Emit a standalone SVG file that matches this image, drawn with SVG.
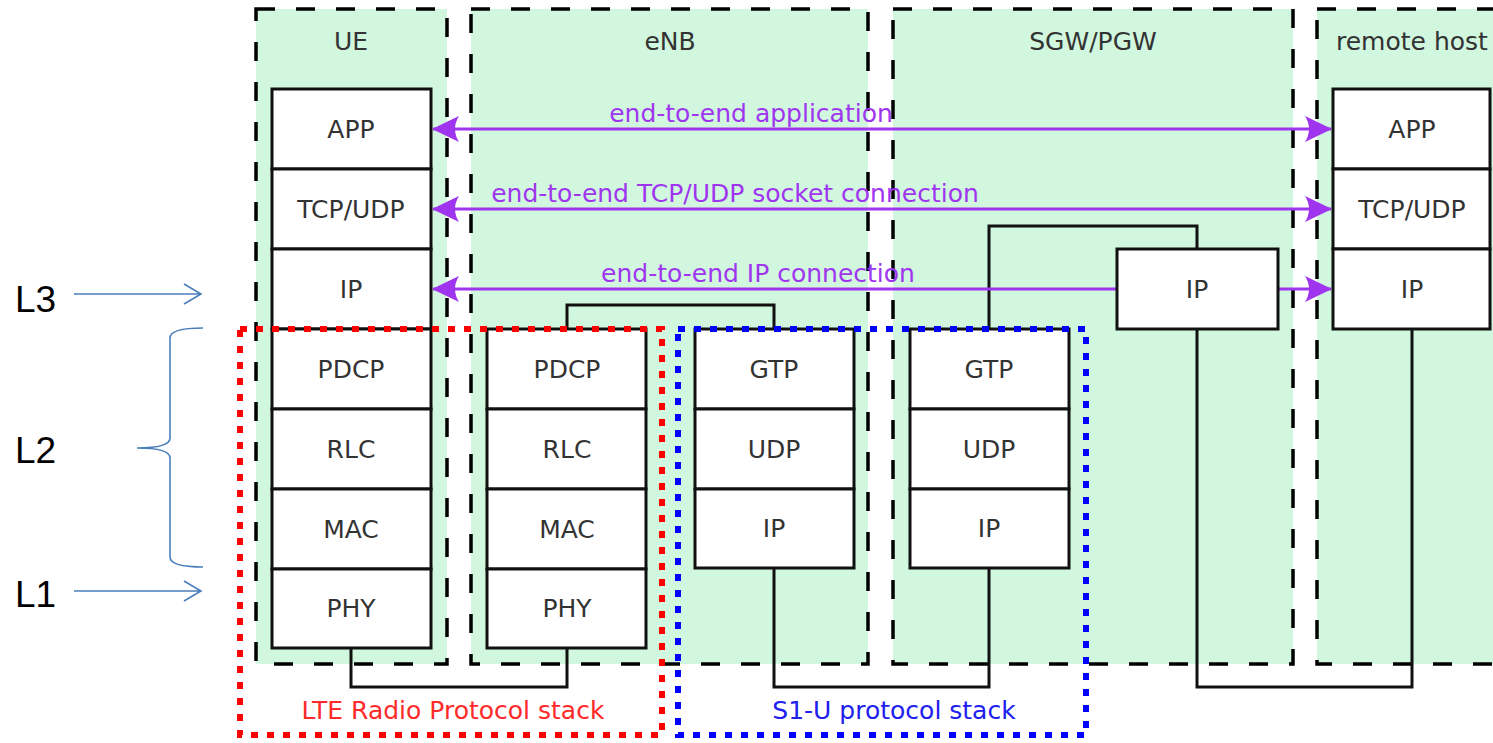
<svg xmlns="http://www.w3.org/2000/svg" width="1493" height="743" viewBox="0 0 1493 743">
<defs>
<style>
.cont{fill:#d1f7de;stroke:#000;stroke-width:3.5;stroke-dasharray:19 21}
.box{fill:#fff;stroke:#111;stroke-width:3}
.t{font-family:"DejaVu Sans",sans-serif;font-size:25px;fill:#333;text-anchor:middle}
.p{font-family:"DejaVu Sans",sans-serif;font-size:25px;fill:#a035f0;text-anchor:middle}
.con{fill:none;stroke:#111;stroke-width:3}
.e2e{stroke:#a035f0;stroke-width:3;fill:none}
.lv{font-family:"Liberation Sans",Arial,sans-serif;font-size:37px;fill:#000}
.blu{stroke:#4a7ebb;stroke-width:1.6;fill:none}
</style>
<marker id="pa" viewBox="0 0 28 28" refX="27" refY="14" markerWidth="28" markerHeight="28" markerUnits="userSpaceOnUse" orient="auto-start-reverse">
<path d="M28,14 L1,1 Q9,14 1,27 Z" fill="#a035f0"/>
</marker>
</defs>
<rect width="1493" height="743" fill="#fff"/>

<g id="ue">
<rect class="cont" x="256" y="9" width="191" height="655"/>
<text class="t" x="351" y="50">UE</text>
</g>
<g id="enb">
<rect class="cont" x="471" y="9" width="397" height="655"/>
<text class="t" x="670" y="50">eNB</text>
</g>
<g id="sgw">
<rect class="cont" x="893" y="9" width="400" height="655"/>
<text class="t" x="1093" y="50">SGW/PGW</text>
</g>
<g id="remote">
<rect class="cont" x="1317" y="9" width="200" height="655"/>
<text class="t" x="1336" y="50" style="text-anchor:start">remote host</text>
</g>

<g id="connectors">
<path class="con" d="M351,648 V687 H567 V648"/>
<path class="con" d="M567,329 V305 H774 V329"/>
<path class="con" d="M774,568 V687 H989 V568"/>
<path class="con" d="M989,329 V226 H1197 V249"/>
<path class="con" d="M1197,329 V687 H1412 V329"/>
<line class="e2e" x1="433" y1="129" x2="1331" y2="129" marker-start="url(#pa)" marker-end="url(#pa)"/>
<line class="e2e" x1="433" y1="209" x2="1331" y2="209" marker-start="url(#pa)" marker-end="url(#pa)"/>
<line class="e2e" x1="433" y1="289" x2="1117" y2="289" marker-start="url(#pa)"/>
<line class="e2e" x1="1278" y1="289" x2="1331" y2="289" marker-end="url(#pa)"/>
<text class="p" x="751" y="122">end-to-end application</text>
<text class="p" x="735" y="202">end-to-end TCP/UDP socket connection</text>
<text class="p" x="758" y="282">end-to-end IP connection</text>
</g>

<g id="ue-stack">
<rect class="box" x="272" y="89" width="159" height="80"/><text class="t" x="351" y="138">APP</text>
<rect class="box" x="272" y="169" width="159" height="80"/><text class="t" x="351" y="218">TCP/UDP</text>
<rect class="box" x="272" y="249" width="159" height="80"/><text class="t" x="351" y="298">IP</text>
<rect class="box" x="272" y="329" width="159" height="80"/><text class="t" x="351" y="378">PDCP</text>
<rect class="box" x="272" y="409" width="159" height="80"/><text class="t" x="351" y="458">RLC</text>
<rect class="box" x="272" y="489" width="159" height="80"/><text class="t" x="351" y="538">MAC</text>
<rect class="box" x="272" y="569" width="159" height="79"/><text class="t" x="351" y="617">PHY</text>
</g>
<g id="enb-radio-stack">
<rect class="box" x="487" y="329" width="159" height="80"/><text class="t" x="567" y="378">PDCP</text>
<rect class="box" x="487" y="409" width="159" height="80"/><text class="t" x="567" y="458">RLC</text>
<rect class="box" x="487" y="489" width="159" height="80"/><text class="t" x="567" y="538">MAC</text>
<rect class="box" x="487" y="569" width="159" height="79"/><text class="t" x="567" y="617">PHY</text>
</g>
<g id="enb-s1u-stack">
<rect class="box" x="695" y="329" width="159" height="80"/><text class="t" x="774" y="378">GTP</text>
<rect class="box" x="695" y="409" width="159" height="80"/><text class="t" x="774" y="458">UDP</text>
<rect class="box" x="695" y="489" width="159" height="79"/><text class="t" x="774" y="537">IP</text>
</g>
<g id="sgw-s1u-stack">
<rect class="box" x="910" y="329" width="159" height="80"/><text class="t" x="989" y="378">GTP</text>
<rect class="box" x="910" y="409" width="159" height="80"/><text class="t" x="989" y="458">UDP</text>
<rect class="box" x="910" y="489" width="159" height="79"/><text class="t" x="989" y="537">IP</text>
</g>
<g id="sgw-ip">
<rect class="box" x="1117" y="249" width="161" height="80"/><text class="t" x="1197" y="298">IP</text>
</g>
<g id="remote-stack">
<rect class="box" x="1333" y="89" width="157" height="80"/><text class="t" x="1412" y="138">APP</text>
<rect class="box" x="1333" y="169" width="157" height="80"/><text class="t" x="1412" y="218">TCP/UDP</text>
<rect class="box" x="1333" y="249" width="157" height="80"/><text class="t" x="1412" y="298">IP</text>
</g>

<g id="lte-radio">
<rect x="240" y="329" width="422" height="406" fill="none" stroke="#ff0000" stroke-width="6" stroke-dasharray="7 9"/>
<text class="t" x="453" y="719" style="fill:#ff2a2a">LTE Radio Protocol stack</text>
</g>
<g id="s1u">
<rect x="678" y="329" width="408" height="406" fill="none" stroke="#0000ff" stroke-width="6" stroke-dasharray="7 9"/>
<text class="t" x="894" y="719" style="fill:#2020ee">S1-U protocol stack</text>
</g>

<g id="layers">
<text class="lv" x="15" y="312">L3</text>
<text class="lv" x="15" y="463">L2</text>
<text class="lv" x="15" y="607">L1</text>
<path class="blu" d="M74,294 H201 M184,284 L201,294 L184,304"/>
<path class="blu" d="M74,591 H201 M184,581 L201,591 L184,601"/>
<path class="blu" d="M203,328 Q170,328 170,338 V438 Q170,448 137,448 Q170,448 170,458 V557 Q170,567 203,567"/>
</g>
</svg>
